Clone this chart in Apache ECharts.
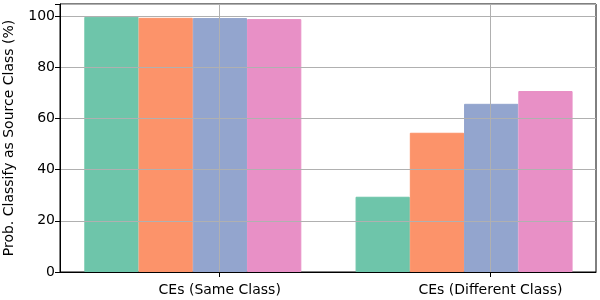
<!DOCTYPE html>
<html><head><meta charset="utf-8">
<script src="https://cdn.jsdelivr.net/npm/echarts@6/dist/echarts.min.js"></script>
<style>html,body{margin:0;padding:0;background:#fff}#c{width:600px;height:300px}</style>
</head><body><div id="c"></div>
<script>
const categories = ['CEs (Same Class)', 'CEs (Different Class)'];
const seriesNames = ['S1', 'S2', 'S3', 'S4'];
const seriesValues = [
  [99.7, 29.4],
  [99.3, 54.4],
  [99.2, 65.7],
  [98.8, 70.7]
];
const yTicks = [0, 20, 40, 60, 80, 100];
const colors = ['#6ec5aa', '#fc936a', '#93a5ce', '#e890c6'];
const FONT = 'DejaVu Sans';

const chart = echarts.init(document.getElementById('c'), null, {renderer: 'canvas'});
const yMax = 104.7;
const option = {
  animation: false,
  textStyle: {fontFamily: FONT},
  grid: [
    {left: 60, right: 4, top: 4, bottom: 28, show: true, borderColor: '#000', borderWidth: 1,
     backgroundColor: 'transparent', z: 0, containLabel: false, outerBoundsMode: 'none'},
    {left: 57.2, right: 0.3, top: 4, bottom: 28, show: false, containLabel: false, outerBoundsMode: 'none'}
  ],
  xAxis: [
    {
      type: 'value', gridIndex: 0, min: -0.59, max: 1.39, z: 5,
      axisLine: {show: true, onZero: false, lineStyle: {color: '#000', width: 1}},
      axisTick: {show: true, customValues: [0, 1], length: 5, lineStyle: {color: '#000', width: 1}},
      axisLabel: {show: true, customValues: [0, 1], margin: 11, fontSize: 14, color: '#000', fontFamily: FONT,
        formatter: v => categories[Math.round(v)]},
      splitLine: {show: true, lineStyle: {color: '#b0b0b0', width: 1}}
    },
    {
      type: 'category', gridIndex: 1, data: categories, show: false,
      axisTick: {show: false}, axisLabel: {show: false}, axisLine: {show: false}, splitLine: {show: false}
    }
  ],
  yAxis: [
    {
      type: 'value', gridIndex: 0, min: 0, max: yMax, interval: 20, z: 5,
      name: 'Prob. Classify as Source Class (%)', nameLocation: 'middle', nameGap: 44,
      nameTextStyle: {fontSize: 14, color: '#000', fontFamily: FONT},
      axisLine: {show: true, onZero: false, lineStyle: {color: '#000', width: 1}},
      axisTick: {show: true, length: 5, lineStyle: {color: '#000', width: 1}},
      axisLabel: {show: true, margin: 5, fontSize: 14, color: '#000', fontFamily: FONT,
        formatter: v => (yTicks.includes(v) ? String(v) : '')},
      splitLine: {show: true, lineStyle: {color: '#b0b0b0', width: 1}}
    },
    {
      type: 'value', gridIndex: 1, min: 0, max: yMax, show: false,
      splitLine: {show: false}
    }
  ],
  series: seriesNames.map((n, i) => ({
    name: n, type: 'bar', xAxisIndex: 1, yAxisIndex: 1,
    data: seriesValues[i],
    barGap: '0%', barCategoryGap: '20%',
    itemStyle: {color: colors[i], borderColor: colors[i], borderWidth: 1},
    z: 2
  }))
};
chart.setOption(option);
</script>
</body></html>
